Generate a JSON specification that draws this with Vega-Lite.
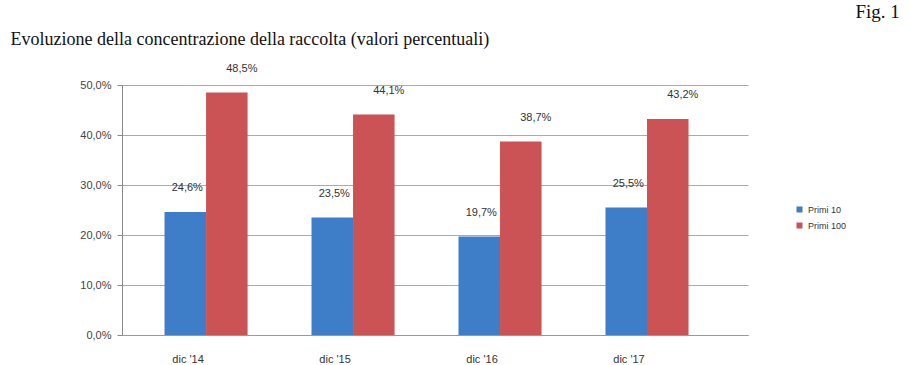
{
  "$schema": "https://vega.github.io/schema/vega-lite/v6.json",
  "width": 626,
  "height": 250,
  "autosize": {"type": "none"},
  "padding": {"left": 122, "top": 85, "right": 161, "bottom": 30},
  "background": "white",
  "config": {
    "locale": {"number": {"decimal": ",", "thousands": ".", "grouping": [3], "currency": ["€", ""]}},
    "view": {"stroke": null},
    "font": "Liberation Sans"
  },
  "data": {
    "values": [
      {"periodo": "dic '14", "serie": "Primi 10", "valore": 0.246},
      {"periodo": "dic '14", "serie": "Primi 100", "valore": 0.485},
      {"periodo": "dic '15", "serie": "Primi 10", "valore": 0.235},
      {"periodo": "dic '15", "serie": "Primi 100", "valore": 0.441},
      {"periodo": "dic '16", "serie": "Primi 10", "valore": 0.197},
      {"periodo": "dic '16", "serie": "Primi 100", "valore": 0.387},
      {"periodo": "dic '17", "serie": "Primi 10", "valore": 0.255},
      {"periodo": "dic '17", "serie": "Primi 100", "valore": 0.432}
    ]
  },
  "encoding": {
    "x": {
      "field": "periodo",
      "type": "nominal",
      "sort": null,
      "scale": {"paddingInner": 0.435, "paddingOuter": 0.347, "align": 0.417},
      "axis": {
        "title": "Evoluzione della concentrazione della raccolta (valori percentuali)",
        "orient": "bottom",
        "labelAngle": 0,
        "labelFontSize": 11,
        "labelColor": "#333",
        "labelPadding": 18,
        "labelOffset": -18,
        "ticks": false,
        "domainColor": "#999",
        "titleFont": "Liberation Serif",
        "titleFontSize": 18,
        "titleFontWeight": "normal",
        "titleColor": "#111",
        "titleAnchor": "start",
        "titleAlign": "left",
        "titleX": -112,
        "titleY": -305
      }
    },
    "xOffset": {"field": "serie", "type": "nominal"},
    "y": {
      "field": "valore",
      "type": "quantitative",
      "scale": {"domain": [0, 0.5]},
      "axis": {
        "title": "Fig. 1",
        "titleFont": "Liberation Serif",
        "titleFontSize": 19,
        "titleFontWeight": "normal",
        "titleColor": "#111",
        "titleAngle": 0,
        "titleAlign": "left",
        "titleBaseline": "alphabetic",
        "titleX": 733,
        "titleY": -68,
        "format": ".1%",
        "values": [0, 0.1, 0.2, 0.3, 0.4, 0.5],
        "labelOverlap": false,
        "labelFontSize": 11,
        "labelColor": "#444",
        "labelPadding": 6,
        "tickSize": 5,
        "domainColor": "#888",
        "tickColor": "#888",
        "gridColor": "#aaa",
        "gridWidth": 1
      }
    }
  },
  "layer": [
    {
      "mark": {"type": "bar"},
      "encoding": {
        "color": {
          "field": "serie",
          "type": "nominal",
          "scale": {"domain": ["Primi 10", "Primi 100"], "range": ["#3E7DC8", "#CB5356"]},
          "legend": {
            "title": null,
            "orient": "none",
            "legendX": 673,
            "legendY": 120,
            "symbolType": "square",
            "symbolSize": 36,
            "labelFontSize": 9,
            "labelColor": "#333",
            "rowPadding": 6
          }
        }
      }
    },
    {
      "transform": [{"filter": "datum.serie === 'Primi 10'"}],
      "mark": {"type": "text", "baseline": "middle", "dy": -24, "dx": 2, "fontSize": 11, "color": "#333"},
      "encoding": {
        "text": {"field": "valore", "type": "quantitative", "format": ".1%"}
      }
    },
    {
      "transform": [{"filter": "datum.serie === 'Primi 100'"}],
      "mark": {"type": "text", "baseline": "middle", "dy": -24, "dx": 15, "fontSize": 11, "color": "#333"},
      "encoding": {
        "text": {"field": "valore", "type": "quantitative", "format": ".1%"}
      }
    }
  ]
}
